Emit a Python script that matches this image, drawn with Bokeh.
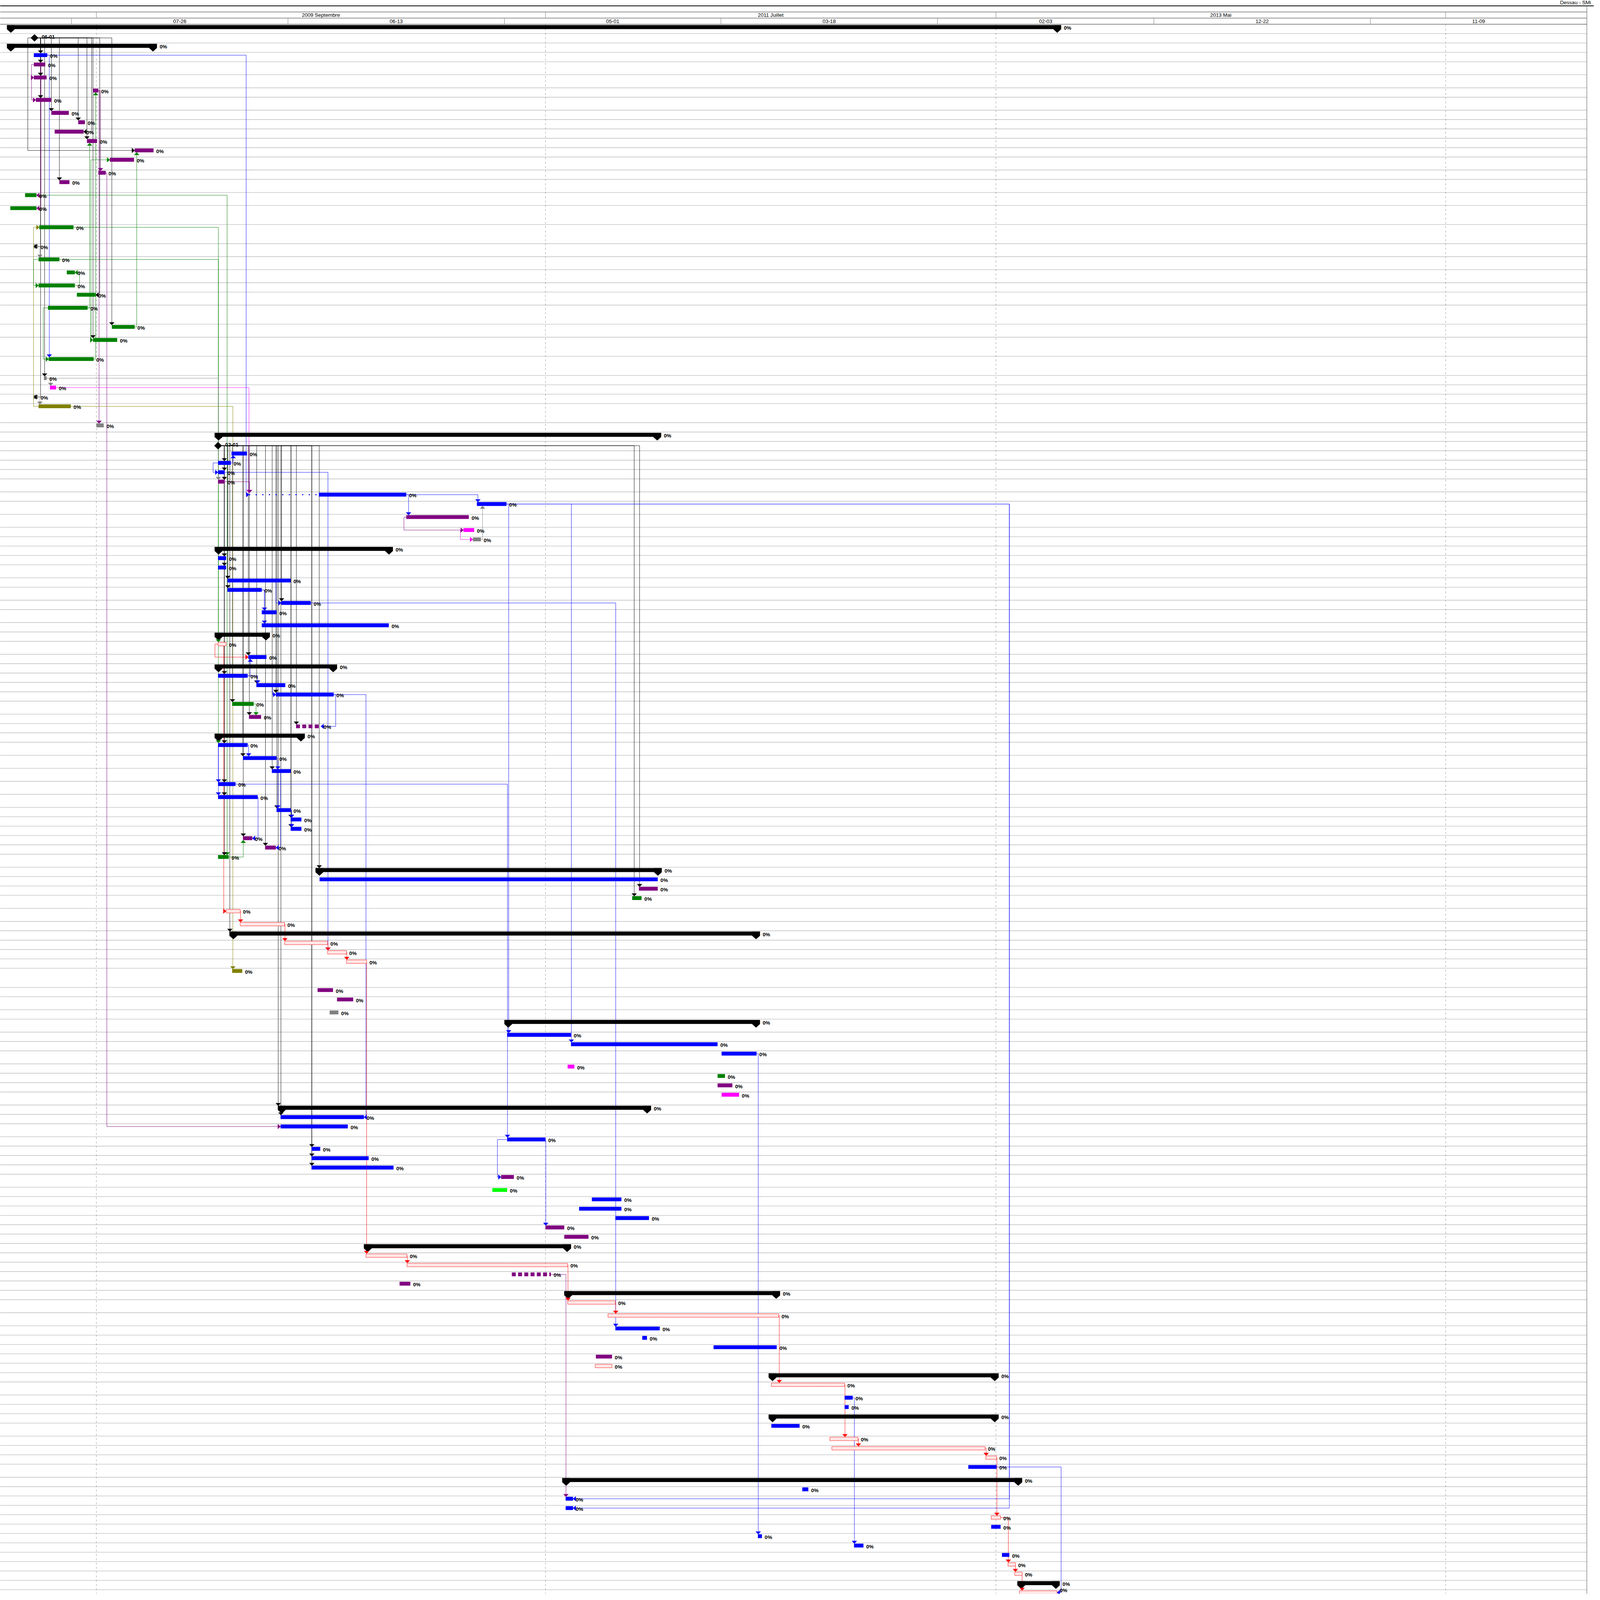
import pandas as pd
from bokeh.plotting import figure
from bokeh.models import Range1d, ColumnDataSource
from bokeh.core.properties import value
from bokeh.embed import file_html
from bokeh.resources import INLINE

# ---------------- data ----------------
title_text = "Dessau - SMi"
BASE = pd.Timestamp("2009-09-01")          # day 0 of the time scale
top_bounds = ["2009-09-01", "2011-07-01", "2013-05-01", "2015-03-01"]
top_labels = ["2009 Septembre", "2011 Juillet", "2013 Mai"]
low_starts = ["2009-07-26", "2010-06-13", "2011-05-01", "2012-03-18",
              "2013-02-03", "2013-12-22", "2014-11-09"]
LOW_SPAN_DAYS = 322

# row height class per row (S = one line, M = taller, L = two lines)
row_size = ("SSSSMMSMSSSSSMSMMLLMMMSMLMLLSSSLS"
            "SSSSSMSMMSSSSMSMSMSSMSSSSSMSSSMMMMMSS"
            "SSSMSSSMMSSSSSLSMSMSSMSSSMSSMSSSSMSSS"
            "SSSSSSSSSMMSSSSSSMSSSMSSSMSSSSSSSSSSSSS")

# kind: S summary, M milestone, T task, C critical (hatched), D split task
task_kind = list("SMS" + "T" * 30 + "SM" + "T" * 9 + "S" + "T" * 7 + "S" + "C" + "T" + "S"
                 + "TTTTT" + "D" + "S" + "T" * 11 + "S" + "T" * 3 + "CCSCCC" + "TTTT"
                 + "S" + "T" * 7 + "S" + "T" * 13 + "SCCDTSCCTTTTCSCTTSTCCCTSTTTCTTTTCCSC")
task_color = ["k", "k", "k", "b", "p", "p", "p", "p", "p", "p", "p", "p", "p", "p", "p", "p",
              "g", "g", "g", "gr", "g", "g", "g", "g", "g", "g", "g", "g", "gr", "m", "gr", "o", "gr",
              "k", "k", "b", "b", "b", "p", "b", "b", "p", "m", "gr",
              "k", "b", "b", "b", "b", "b", "b", "b",
              "k", "r", "b",
              "k", "b", "b", "b", "g", "p", "p",
              "k", "b", "b", "b", "b", "b", "b", "b", "b", "p", "p", "g",
              "k", "b", "p", "g",
              "r", "r", "k", "r", "r", "r", "o", "p", "p", "gr",
              "k", "b", "b", "b", "m", "g", "p", "m",
              "k", "b", "b", "b", "b", "b", "b", "p", "l", "b", "b", "b", "p", "p",
              "k", "r", "r", "p", "p", "k", "r", "r", "b", "b", "b", "p", "r",
              "k", "r", "b", "b", "k", "b", "r", "r", "r", "b",
              "k", "b", "b", "b", "r", "b", "b", "b", "b", "r", "r", "k", "r"]
# start / end, in days after 2009-09-01
task_start = [-133, -92, -133, -93, -93, -93, -5, -90, -67, -27, -62, -14, 57, 20, 3, -55,
              -106, -128, -85, -93, -86, -44, -86, -29, -72, 23, -5, -71, -78, -69, -93, -86, 0,
              176, 181, 201, 181, 181, 181, 331, 566, 461, 546, 560,
              176, 181, 181, 195, 195, 275, 246, 246,
              176, 181, 226,
              176, 181, 238, 267, 202, 227, 297,
              176, 181, 218, 261, 181, 181, 268, 289, 289, 218, 251, 181,
              326, 332, 807, 797,
              193, 214, 198, 280, 344, 372, 202, 329, 358, 347,
              607, 611, 706, 930, 701, 924, 924, 930,
              270, 274, 274, 611, 320, 320, 320, 602, 589, 737, 718, 772, 668, 696,
              398, 401, 462, 618, 451, 696, 701, 761, 772, 812, 918, 743, 742,
              1000, 1004, 1113, 1113, 1000, 1004, 1091, 1094, 1323, 1297,
              693, 1050, 698, 698, 1331, 1331, 984, 1127, 1347, 1356, 1366, 1370, 1373]
task_end = [1435, -92, 90, -73, -76, -74, 3, -67, -41, -17, -19, 1, 85, 56, 14, -40,
            -89, -89, -34, -87, -55, -32, -32, -1, -13, 57, 31, -4, -74, -60, -87, -38, 11,
            840, 181, 224, 200, 191, 191, 461, 610, 554, 562, 572,
            441, 193, 193, 289, 246, 319, 268, 435,
            258, 193, 253,
            358, 225, 281, 353, 234, 245, 334,
            310, 225, 268, 289, 207, 240, 289, 305, 305, 232, 267, 197,
            841, 835, 835, 811,
            214, 280, 987, 344, 372, 402, 217, 352, 382, 360,
            987, 706, 924, 982, 711, 935, 946, 956,
            825, 398, 374, 668, 333, 405, 442, 621, 611, 781, 781, 822, 696, 732,
            706, 462, 701, 676, 467, 1017, 772, 1015, 838, 819, 1012, 767, 767,
            1342, 1113, 1125, 1119, 1342, 1046, 1133, 1322, 1339, 1339,
            1377, 1059, 709, 709, 1345, 1345, 990, 1141, 1358, 1367, 1377, 1433, 1429]
lead_row = [39]            # rows with a dotted lead-in before the bar
lead_start = [227]

# dependencies: (from row, to row, colour, day of the vertical run, arrives at the end)
links = [
    (1, 3, "k", -83, False), (1, 4, "k", -83, False), (1, 5, "k", -83, False), (1, 7, "k", -83, False),
    (1, 8, "k", -67, False), (1, 9, "k", -27, False), (1, 11, "k", -14, False), (1, 15, "k", -55, False),
    (1, 19, "k", -83, False), (1, 25, "k", 23, False), (1, 26, "k", -5, False), (1, 28, "k", -77, False),
    (1, 30, "k", -83, False), (1, 12, "k", -102, False), (1, 10, "k", -7, True), (1, 23, "k", 5, True),
    (19, 20, "gr", -84, False), (28, 29, "gr", -68, False), (30, 31, "gr", -84, False),
    (25, 12, "g", 60, False), (24, 11, "g", -10, False), (27, 6, "g", -1, False), (22, 21, "g", -25, True),
    (26, 13, "g", -8, False), (18, 53, "g", 181.5, False), (20, 63, "g", 181.5, False), (16, 73, "g", 194.5, False),
    (28, 38, "gr", 181.5, False), (29, 39, "m", 227, False), (6, 32, "p", 4, False), (14, 98, "p", 15.6, False),
    (31, 84, "o", 203, False), (3, 27, "b", -70, False), (3, 39, "b", 222.8, False),
    (4, 5, "p", -96.4, False), (5, 7, "p", -96.4, False), (6, 14, "p", 6.2, False),
    (4, 16, "p", -82.5, True), (4, 17, "p", -82.5, True), (24, 26, "g", -8.2, False),
    (24, 27, "g", -79, False), (31, 18, "o", -93.5, False), (20, 22, "g", -93.5, False),
    (34, 36, "k", 190.4, False), (34, 37, "k", 190.4, False), (34, 38, "k", 190.4, False),
    (34, 45, "k", 190.4, False), (34, 46, "k", 190.4, False), (34, 47, "k", 195.5, False),
    (34, 48, "k", 195.5, False), (34, 49, "k", 275.5, False), (34, 54, "k", 226, False),
    (34, 56, "k", 190.4, False), (34, 57, "k", 238.5, False), (34, 58, "k", 267, False),
    (34, 59, "k", 202.5, False), (34, 60, "k", 227.5, False), (34, 61, "k", 297.5, False),
    (34, 63, "k", 190.4, False), (34, 64, "k", 218, False), (34, 65, "k", 261.5, False),
    (34, 66, "k", 190.4, False), (34, 67, "k", 190.4, False), (34, 68, "k", 268.5, False),
    (34, 69, "k", 289.5, False), (34, 70, "k", 289.5, False), (34, 71, "k", 218.5, False),
    (34, 72, "k", 251.5, False), (34, 73, "k", 190.4, False), (34, 74, "k", 331.5, False),
    (34, 76, "k", 808, False), (34, 77, "k", 800, False), (34, 96, "k", 270.5, False),
    (34, 97, "k", 274.5, False), (34, 100, "k", 320.5, False), (34, 101, "k", 320.5, False),
    (34, 102, "k", 320.5, False), (34, 80, "k", 198.5, False),
    (36, 35, "b", 203.5, False), (36, 37, "b", 173.6, False), (38, 39, "p", 228, False),
    (39, 40, "b", 567.5, False), (39, 41, "b", 464.4, False), (41, 42, "p", 457.5, False),
    (42, 43, "m", 541.5, False), (43, 40, "gr", 574.4, False),
    (48, 50, "b", 250, False), (48, 51, "b", 250, False), (47, 49, "b", 267, False),
    (56, 54, "b", 229, False), (56, 57, "b", 240, False), (57, 58, "b", 262, False),
    (59, 60, "g", 237.5, False), (58, 61, "b", 356, True),
    (63, 64, "b", 226.5, False), (64, 65, "b", 270, False), (63, 66, "b", 181.5, False),
    (63, 67, "b", 181.5, False), (65, 68, "b", 270, False), (68, 69, "b", 290.5, False),
    (68, 70, "b", 290.5, False), (67, 71, "b", 240.5, True), (65, 72, "b", 274, True),
    (73, 71, "g", 218.5, False), (37, 82, "b", 344.5, False),
    (40, 135, "b", 1358, True), (40, 136, "b", 1358, True), (40, 89, "b", 613.3, False),
    (40, 90, "b", 706.5, False), (132, 145, "b", 1435, True), (91, 139, "b", 984.5, False),
    (125, 140, "b", 1127.5, False), (66, 99, "b", 611.5, False), (49, 118, "b", 772.5, False),
    (58, 97, "b", 401, True), (113, 135, "p", 698.5, False), (99, 108, "b", 668.5, False),
    (99, 103, "b", 596.5, False),
    (53, 54, "r", 176.4, False), (53, 78, "r", 189.5, False), (78, 79, "r", 214.5, False),
    (79, 81, "r", 280.5, False), (81, 82, "r", 344.5, False), (82, 83, "r", 372.5, False),
    (83, 111, "r", 402, False), (111, 112, "r", 462.5, False), (112, 116, "r", 701.5, False),
    (116, 117, "r", 772.5, False), (117, 124, "r", 1015.8, False), (124, 129, "r", 1113.5, False),
    (129, 130, "r", 1133.5, False), (130, 131, "r", 1323.5, False), (131, 137, "r", 1339.5, False),
    (137, 142, "r", 1356.5, False), (142, 143, "r", 1367, False), (143, 145, "r", 1377, False),
]

# ---------------- styling / layout ----------------
PALETTE = {"k": "#000000", "b": "#0000FF", "p": "#800080", "g": "#008000", "gr": "#808080",
           "m": "#FF00FF", "o": "#808000", "l": "#00FF00", "r": "#FF0000"}
ROW_H = {"S": 35.15, "M": 48.8, "L": 71.7}      # design units (reference pixels)
PX_PER_DAY = 2.4375                              # design units per day
X0_PX = 360.0                                    # design x of day 0
REF_W, REF_H = 5801.0, 6001.0                    # design page size
PAGE_W, PAGE_H = 4096, 4096                      # page that is actually photographed
W, H = PAGE_W - 16, PAGE_H - 16
SX, SY = PAGE_W / REF_W, PAGE_H / REF_H
K = (SX + SY) / 2                                # scale for fonts / strokes
FONT = value("Liberation Sans")
D = 1.0 / PX_PER_DAY


def fsz(px):
    return "%.1fpx" % (px * K)


def px2day(px):
    return (px - X0_PX) / PX_PER_DAY


def dday(s):
    return (pd.Timestamp(s) - BASE).days


tops = []
y = 102.0
for c in row_size:
    tops.append(y)
    y += ROW_H[c]
bottom_y = y
n = len(row_size)
y_bottom_view = (8 + H) / SY

p = figure(width=W, height=H, output_backend="svg", toolbar_location=None,
           x_range=Range1d(px2day(8 / SX), px2day((8 + W) / SX)),
           y_range=Range1d(y_bottom_view, 8 / SY),
           x_axis_location=None, y_axis_location=None, min_border=0)
p.grid.visible = False
p.outline_line_color = None
p.background_fill_color = "white"
p.border_fill_color = "white"

x_left = px2day(0)
x_right = px2day(5764)

# row lines
bounds = tops + [bottom_y]
p.segment(x0=[x_left] * len(bounds), x1=[x_right] * len(bounds), y0=bounds, y1=bounds,
          line_color="#BDBDBD", line_width=2 * K)

# header
tb = [dday(s) for s in top_bounds]
lb = [dday(s) for s in low_starts]
p.segment(x0=[px2day(0)], x1=[px2day(5800)], y0=[33], y1=[33], line_color="black", line_width=3 * K)
p.segment(x0=[x_left] * 3, x1=[x_right] * 3, y0=[56, 79, 102], y1=[56, 79, 102],
          line_color="#808080", line_width=2.5 * K)
p.segment(x0=tb, x1=tb, y0=[56] * len(tb), y1=[79] * len(tb), line_color="#808080", line_width=1.5 * K)
p.segment(x0=lb, x1=lb, y0=[79] * len(lb), y1=[102] * len(lb), line_color="#808080", line_width=1.5 * K)
p.segment(x0=[x_right], x1=[x_right], y0=[33], y1=[bottom_y + 60], line_color="#808080", line_width=2 * K)
p.text(x=[(tb[i] + tb[i + 1]) / 2 for i in range(len(top_labels))], y=[68] * len(top_labels),
       text=top_labels, text_align="center", text_baseline="middle",
       text_font=FONT, text_font_size=fsz(19), text_color="#000000")
low_lab = [pd.Timestamp(s).strftime("%m-%d") for s in low_starts]
p.text(x=[v + LOW_SPAN_DAYS / 2 for v in lb], y=[91] * len(lb), text=low_lab,
       text_align="center", text_baseline="middle",
       text_font=FONT, text_font_size=fsz(19), text_color="#000000")
p.text(x=[px2day(5779)], y=[21], text=[title_text], text_align="right", text_baseline="middle",
       text_font=FONT, text_font_size=fsz(19), text_color="#000000")

# dashed period lines
p.segment(x0=tb, x1=tb, y0=[102] * len(tb), y1=[bottom_y + 60] * len(tb),
          line_color="#808080", line_width=1.2 * K, line_dash="5 6")


def mid_y(i):
    return tops[i] + (16 if task_kind[i] == "M" else 10.5)


def span(i):
    s = task_start[i]
    if i in lead_row:
        s = min(s, lead_start[lead_row.index(i)])
    return s, task_end[i]


# connectors
lx, ly, lc = [], [], []
ax_, ay_, ac_ = [], [], []
AW, AH = 9 * D, 10
for (a, b, c, via, to_end) in links:
    ps, pe = task_start[a], task_end[a]
    if task_kind[a] == "M":
        sx = ps
    else:
        sx = pe if via >= pe else ps
    py = mid_y(a)
    ss, se = span(b)
    down = tops[b] > tops[a]
    col = PALETTE[c]
    if ss <= via <= se and not to_end:
        ey = tops[b] + 3 if down else tops[b] + 17.5
        lx.append([sx, via, via]); ly.append([py, py, ey]); lc.append(col)
        if down:
            ax_.append([via - AW, via + AW, via]); ay_.append([ey - AH, ey - AH, ey])
        else:
            ax_.append([via - AW, via + AW, via]); ay_.append([ey + AH, ey + AH, ey])
        ac_.append(col)
    else:
        sy = mid_y(b)
        tx = se if to_end else ss
        lx.append([sx, via, via, tx]); ly.append([py, py, sy, sy]); lc.append(col)
        if tx >= via:
            ax_.append([tx - 10 * D, tx - 10 * D, tx]); ay_.append([sy - 9, sy + 9, sy])
        else:
            ax_.append([tx + 10 * D, tx + 10 * D, tx]); ay_.append([sy - 9, sy + 9, sy])
        ac_.append(col)
p.multi_line(xs=lx, ys=ly, line_color=lc, line_width=1.3 * K)

# dotted lead-ins
for r, s in zip(lead_row, lead_start):
    p.segment(x0=[s], x1=[task_start[r]], y0=[mid_y(r)], y1=[mid_y(r)],
              line_color=PALETTE[task_color[r]], line_width=4 * K, line_dash="3 14")

# task bars
tsel = [i for i in range(n) if task_kind[i] == "T"]
p.quad(left=[task_start[i] for i in tsel], right=[task_end[i] for i in tsel],
       top=[tops[i] + 3 for i in tsel], bottom=[tops[i] + 17.5 for i in tsel],
       fill_color=[PALETTE[task_color[i]] for i in tsel], line_color=None)

# critical (hatched) bars
csel = [i for i in range(n) if task_kind[i] == "C"]
p.quad(left=[task_start[i] for i in csel], right=[task_end[i] for i in csel],
       top=[tops[i] + 4 for i in csel], bottom=[tops[i] + 17 for i in csel],
       fill_color="white", line_color="#FF0000", line_width=1.2 * K,
       hatch_pattern="/", hatch_color="#FF8080", hatch_scale=5, hatch_weight=0.5)

# split tasks
for i in [i for i in range(n) if task_kind[i] == "D"]:
    p.segment(x0=[task_start[i]], x1=[task_end[i]], y0=[mid_y(i)], y1=[mid_y(i)],
              line_color=PALETTE[task_color[i]], line_width=14 * K, line_dash="10 6", line_cap="butt")

# summary bars
ssel = [i for i in range(n) if task_kind[i] == "S"]
p.quad(left=[task_start[i] for i in ssel], right=[task_end[i] for i in ssel],
       top=[tops[i] + 3 for i in ssel], bottom=[tops[i] + 18 for i in ssel],
       fill_color="black", line_color=None)
cw = 28 * D
cap_x, cap_y = [], []
for i in ssel:
    t = tops[i]
    for x0 in (task_start[i], task_end[i] - cw):
        cap_x.append([x0, x0 + cw, x0 + cw, x0 + cw / 2, x0])
        cap_y.append([t + 3, t + 3, t + 19, t + 32, t + 19])
p.patches(xs=cap_x, ys=cap_y, fill_color="black", line_color=None)

# milestones
msel = [i for i in range(n) if task_kind[i] == "M"]
hw = 14 * D
p.patches(xs=[[task_start[i] - hw, task_start[i], task_start[i] + hw, task_start[i]] for i in msel],
          ys=[[mid_y(i), mid_y(i) - 14, mid_y(i), mid_y(i) + 14] for i in msel],
          fill_color="black", line_color=None)
p.text(x=[task_start[i] + 26 * D for i in msel], y=[tops[i] + 13 for i in msel],
       text=[(BASE + pd.Timedelta(days=task_start[i])).strftime("%m-%d") for i in msel],
       text_align="left", text_baseline="middle",
       text_font=FONT, text_font_style="bold", text_font_size=fsz(19), text_color="black")

# arrowheads
p.patches(xs=ax_, ys=ay_, fill_color=ac_, line_color=ac_, line_width=0.5)

# progress labels (kept inside the visible page)
psel = [i for i in range(n) if task_kind[i] != "M"]
src = ColumnDataSource(dict(x=[task_end[i] + 10 * D for i in psel],
                            y=[min(tops[i] + 14, y_bottom_view - 13) for i in psel],
                            t=["0%"] * len(psel)))
p.text(x="x", y="y", text="t", source=src, text_align="left", text_baseline="middle",
       text_font=FONT, text_font_style="bold", text_font_size=fsz(19), text_color="black")

open("out.html", "w").write(file_html(p, INLINE))
